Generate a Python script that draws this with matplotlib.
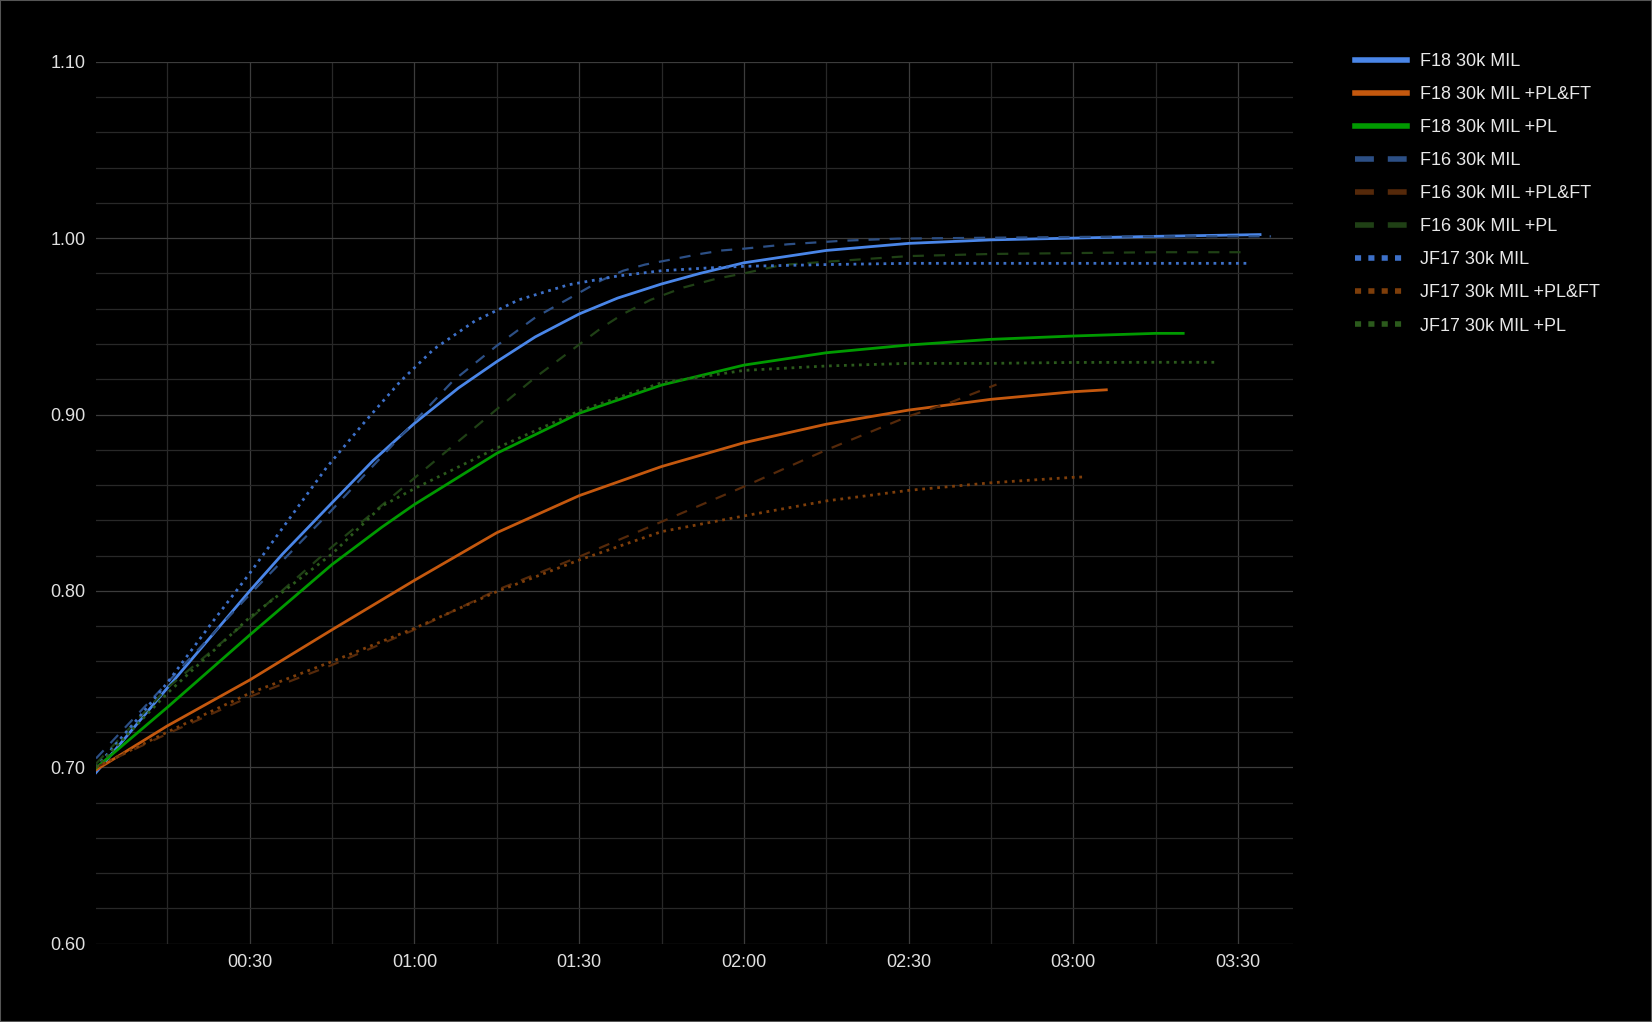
import matplotlib
matplotlib.use("Agg")
import matplotlib.pyplot as plt
from matplotlib.lines import Line2D
from matplotlib.patches import Rectangle
from matplotlib.ticker import MultipleLocator, FuncFormatter

plt.rcParams['font.family'] = ['Liberation Sans', 'DejaVu Sans']

# ---- data (time in seconds, value) ----
f18_mil_t = [2, 15, 21, 30, 36, 45, 52.5, 60, 68, 75, 82, 90, 97, 105, 112, 120, 135, 150, 165, 180, 195, 214]
f18_mil_v = [0.697, 0.745, 0.767, 0.800, 0.821, 0.850, 0.874, 0.895, 0.915, 0.930, 0.944, 0.957, 0.966,
             0.974, 0.980, 0.986, 0.993, 0.997, 0.999, 1.000, 1.001, 1.002]

f18_plft_t = [2, 15, 30, 45, 60, 75, 90, 105, 120, 135, 150, 165, 180, 186]
f18_plft_v = [0.6985, 0.7235, 0.7495, 0.778, 0.806, 0.833, 0.854, 0.8705, 0.884, 0.8945, 0.9025,
              0.9086, 0.9129, 0.914]

f18_pl_t = [2, 15, 30, 45, 54, 60, 75, 90, 105, 120, 135, 150, 165, 180, 195, 200]
f18_pl_v = [0.6996, 0.734, 0.775, 0.815, 0.836, 0.849, 0.878, 0.9007, 0.9167, 0.928, 0.935, 0.9394,
            0.9426, 0.9445, 0.946, 0.946]

f16_mil_t = [2, 15, 30, 45, 60, 67, 75, 82, 90, 94, 98, 102, 107, 112, 116, 120, 128, 138, 148, 158, 175, 195, 216]
f16_mil_v = [0.705, 0.748, 0.798, 0.846, 0.896, 0.919, 0.939, 0.955, 0.969, 0.976, 0.9815, 0.985, 0.988, 0.991,
             0.993, 0.994, 0.9965, 0.9985, 0.9997, 1.000, 1.0005, 1.001, 1.001]

f16_plft_t = [2, 15, 30, 45, 60, 75, 90, 105, 120, 135, 150, 158, 166]
f16_plft_v = [0.700, 0.719, 0.740, 0.758, 0.778, 0.8005, 0.8194, 0.8392, 0.8591, 0.8799, 0.899, 0.9073, 0.917]

f16_pl_t = [2, 15, 30, 45, 50, 55, 60, 65, 75, 82, 88, 94, 98, 103, 109, 115, 120, 127, 135, 150, 165, 180, 195, 212]
f16_pl_v = [0.702, 0.745, 0.784, 0.825, 0.838, 0.851, 0.864, 0.877, 0.903, 0.921, 0.935, 0.949, 0.957, 0.965,
            0.972, 0.977, 0.980, 0.9848, 0.9866, 0.9898, 0.991, 0.9915, 0.992, 0.992]

jf17_mil_t = [2, 10, 15, 23, 30, 37, 44, 51, 57.5, 63.5, 71, 79, 88, 97, 105, 113, 120, 135, 150, 165, 180, 195, 212]
jf17_mil_v = [0.700, 0.729, 0.748, 0.7815, 0.810, 0.840, 0.870, 0.896, 0.919, 0.937, 0.953, 0.965, 0.9735,
              0.9785, 0.9815, 0.983, 0.984, 0.985, 0.9857, 0.9857, 0.9857, 0.9857, 0.9857]

jf17_plft_t = [2, 15, 30, 45, 60, 75, 90, 105, 120, 135, 150, 165, 180, 182]
jf17_plft_v = [0.700, 0.720, 0.742, 0.760, 0.7788, 0.7996, 0.8175, 0.8336, 0.8425, 0.851, 0.857, 0.8613, 0.8644, 0.8646]

jf17_pl_t = [2, 15, 30, 45, 54, 60, 75, 90, 105, 120, 135, 150, 165, 180, 195, 206]
jf17_pl_v = [0.700, 0.742, 0.785, 0.821, 0.848, 0.858, 0.881, 0.902, 0.918, 0.925, 0.9275, 0.929, 0.929, 0.9295,
             0.9296, 0.9296]

labels = ["F18 30k MIL", "F18 30k MIL +PL&FT", "F18 30k MIL +PL",
          "F16 30k MIL", "F16 30k MIL +PL&FT", "F16 30k MIL +PL",
          "JF17 30k MIL", "JF17 30k MIL +PL&FT", "JF17 30k MIL +PL"]
series = [(f18_mil_t, f18_mil_v), (f18_plft_t, f18_plft_v), (f18_pl_t, f18_pl_v),
          (f16_mil_t, f16_mil_v), (f16_plft_t, f16_plft_v), (f16_pl_t, f16_pl_v),
          (jf17_mil_t, jf17_mil_v), (jf17_plft_t, jf17_plft_v), (jf17_pl_t, jf17_pl_v)]
colors = ['#4a86e8', '#c4580e', '#009a00',
          '#2c4f85', '#55290a', '#1f4015',
          '#3d70c8', '#7e3e0a', '#2b5a1c']
styles = ['solid', 'solid', 'solid', 'dash', 'dash', 'dash', 'dot', 'dot', 'dot']

fig = plt.figure(figsize=(16.52, 10.22), dpi=100, facecolor='black')
ax = fig.add_axes([96 / 1652, 1 - 943.7 / 1022, (1293 - 96) / 1652, (943.7 - 61.7) / 1022])
ax.set_facecolor('black')

handles = []
for (t, v), c, s in zip(series, colors, styles):
    if s == 'solid':
        ax.plot(t, v, color=c, lw=2.0, solid_joinstyle='round')
        handles.append(Line2D([], [], color=c, lw=4))
    elif s == 'dash':
        ax.plot(t, v, color=c, lw=1.6, dashes=(5, 4.5))
        handles.append(Line2D([], [], color=c, lw=4, dashes=(3.4, 2.5)))
    else:
        ax.plot(t, v, color=c, lw=2.0, dashes=(1, 1.7))
        handles.append(Line2D([], [], color=c, lw=4, dashes=(1.1, 1.3)))

ax.set_xlim(2, 220)
ax.set_ylim(0.6, 1.1)
ax.xaxis.set_major_locator(MultipleLocator(30))
ax.xaxis.set_minor_locator(MultipleLocator(15))
ax.yaxis.set_major_locator(MultipleLocator(0.1))
ax.yaxis.set_minor_locator(MultipleLocator(0.02))
ax.xaxis.set_major_formatter(FuncFormatter(lambda s, p: "%02d:%02d" % (int(s) // 60, int(s) % 60)))
ax.yaxis.set_major_formatter(FuncFormatter(lambda v, p: "%.2f" % v))
ax.grid(which='major', color='#3c3c3c', lw=0.9)
ax.grid(which='minor', color='#282828', lw=0.9)
ax.set_axisbelow(True)
ax.tick_params(which='both', length=0, colors='#e0e0e0', labelsize=13, pad=7.5)
for sp in ax.spines.values():
    sp.set_visible(False)

leg = ax.legend(handles, labels, loc='upper left', bbox_to_anchor=(1355 / 1652, 1 - 53 / 1022),
                bbox_transform=fig.transFigure, frameon=False, fontsize=13, labelcolor='#e8e8e8',
                handlelength=2.9, handletextpad=0.72, labelspacing=0.89, borderpad=0, borderaxespad=0)

fig.patches.append(Rectangle((0, 0), 1, 1, transform=fig.transFigure, fill=False, ec='#555555', lw=1.5))

fig.savefig("out.png", dpi=100, facecolor='black')
